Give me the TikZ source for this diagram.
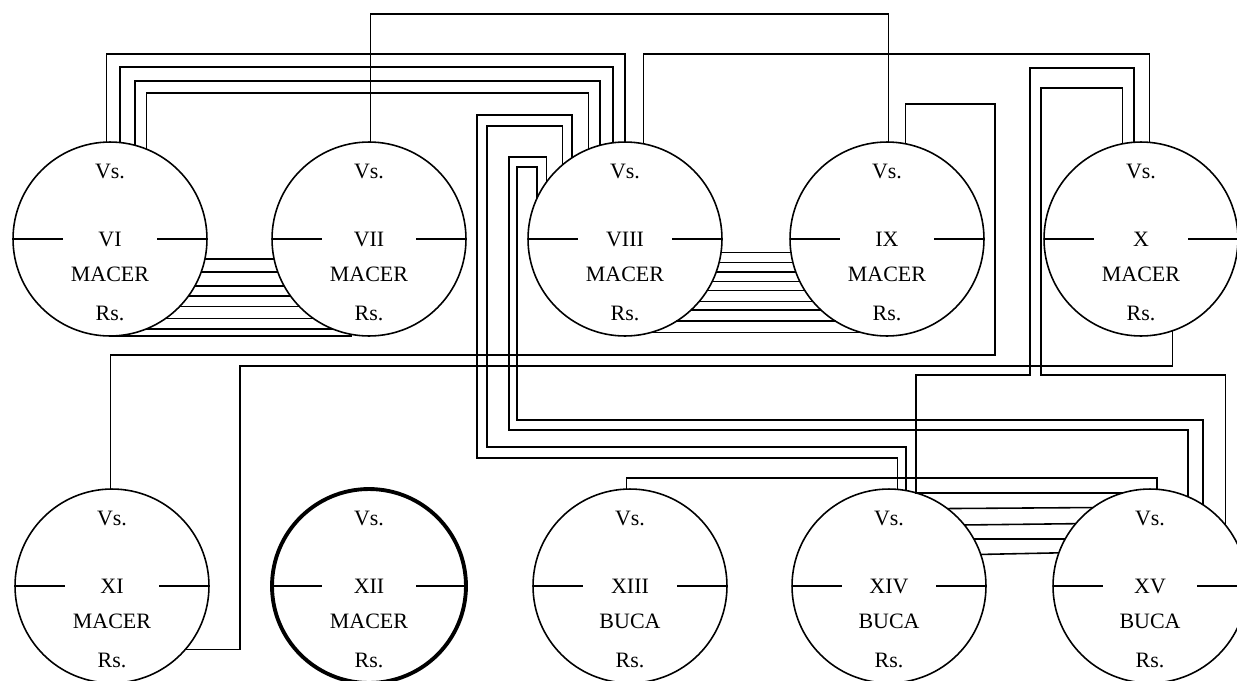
\documentclass[tikz,border=0pt]{standalone}
\usepackage{fontspec}
\setmainfont{Liberation Serif}
\usetikzlibrary{calc}

\begin{document}
\begin{tikzpicture}[x=0.02cm, y=-0.02cm, line width=0.9pt,
  every node/.style={font=\fontsize{12.5}{14}\selectfont},
  cn/.style={draw, circle, minimum size=3.88cm, inner sep=0pt, outer sep=0pt},
  lbl/.style={inner sep=0pt}]
  \clip (0,0) rectangle (1237,680);
  \fill[white] (0,0) rectangle (1237,680);
  \foreach \n/\x/\y/\t/\w in {VI/110/239/MACER/0.9pt, VII/369/239/MACER/0.9pt, VIII/625/239/MACER/0.9pt,
      IX/887/239/MACER/0.9pt, X/1141/239/MACER/0.9pt, XI/112/586/MACER/0.9pt, XII/369/586/MACER/2.2pt,
      XIII/630/586/BUCA/0.9pt, XIV/889/586/BUCA/0.9pt, XV/1150/586/BUCA/0.9pt} {
    \node[cn, line width=\w] (\n) at (\x,\y) {};
    \node[lbl] (\n-vs) at (\x,\y-68) {Vs.};
    \node[lbl] (\n-nr) at (\x,\y) {\n};
    \node[lbl] (\n-ty) at (\x,\y+35) {\t};
    \node[lbl] (\n-rs) at (\x,\y+74) {Rs.};
    \draw (\n.west) -- ++(50,0) (\n.east) -- ++(-50,0);
  }
  % upper connections
  \draw (VII.89) |- (600,14) -| (IX.89);
  \foreach \a/\b/\y in {92/90/54, 84/97/67, 75/105/81, 68/112/93}
    \draw (VI.\a) |- (370,\y) -| (VIII.\b);
  \draw (VIII.79) |- (900,54) -| (X.85);
  \draw (IX.79) |- (995,104) |- (600,355) -| (XI.91);
  \draw (X.-71) |- (240,366) |- (XI.-41);
  \draw (X.94) |- (1030,68) |- (960,375) -| (XIV.74) -- (XV.106);
  \draw (X.101) |- (1041,88) |- (1100,375) -| (XV.39);
  % loops from VIII
  \draw (VIII.123) |- (477,115) |- (700,458) -| (XIV.85);
  \draw (VIII.130) |- (487,126) |- (700,447) -| (XIV.80);
  \draw (VIII.144) |- (509,157) |- (700,430) -| (XV.67);
  \draw (VIII.155) |- (517,167) |- (700,420) -| (XV.57);
  \draw (XIII.92) |- (900,478) -| (XV.86);
  % ladders
  \foreach \a in {12.5,20.5,29,36.7,44.5,55.6,68.1}
    \draw (VI.-\a) -- (VII.{180+\a});
  \draw (VI.-90) -- (VII.-100 |- VI.-90);
  \foreach \a in {8.3,14.3,20.5,26.3,32.4,40.5,47.9,58.8,75.7}
    \draw (VIII.-\a) -- (IX.{180+\a});
  \foreach \a in {53.5,39.7,29,19.9}
    \draw (XIV.\a) -- (XV.{180-\a});
\end{tikzpicture}
\end{document}
